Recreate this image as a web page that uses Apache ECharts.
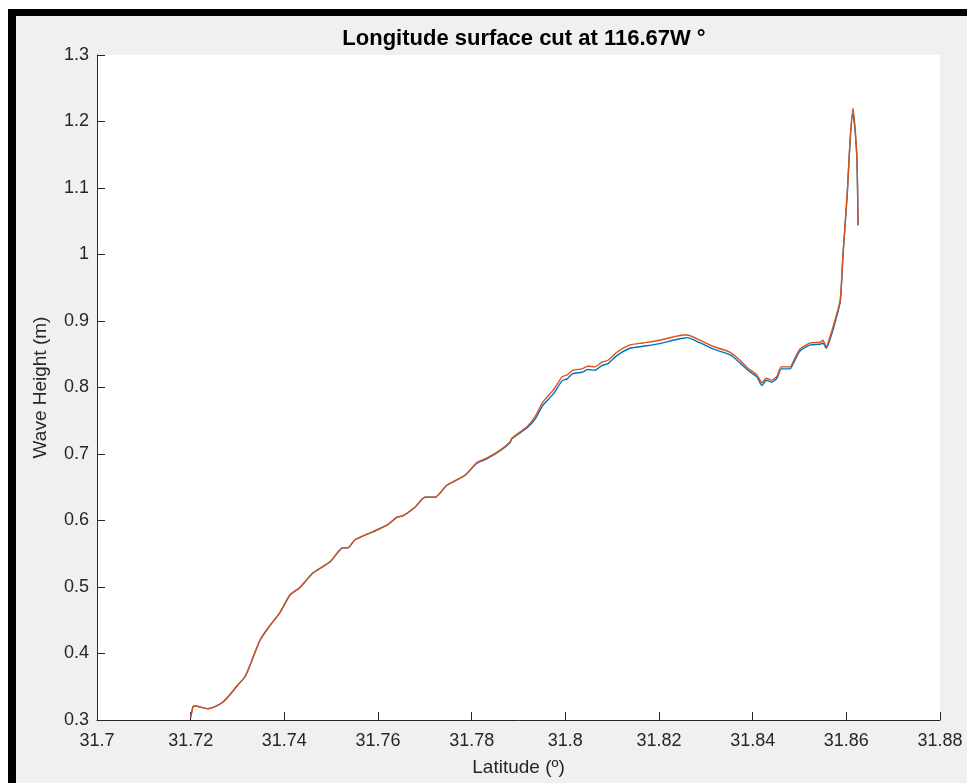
<!DOCTYPE html>
<html>
<head>
<meta charset="utf-8">
<script src="https://cdn.jsdelivr.net/npm/echarts@6/dist/echarts.min.js"></script>
<style>
html,body{margin:0;padding:0;background:#fff;}
#chart{width:967px;height:783px;}
</style>
</head>
<body>
<div id="chart"></div>
<script>
const titleText = 'Longitude surface cut at 116.67W °';
const xName = 'Latitude (º)';
const yName = 'Wave Height (m)';
const xTicks = [31.7, 31.72, 31.74, 31.76, 31.78, 31.8, 31.82, 31.84, 31.86, 31.88];
const yTicks = [0.3, 0.4, 0.5, 0.6, 0.7, 0.8, 0.9, 1.0, 1.1, 1.2, 1.3];

const latitude = [
  31.7200, 31.7205, 31.7209, 31.7237, 31.7252, 31.7269, 31.7285, 31.7301, 31.7316, 31.7331, 31.7348, 31.7365,
  31.7391, 31.7412, 31.7433, 31.7461, 31.7498, 31.7525, 31.7536, 31.7551, 31.7589, 31.7619,
  31.7641, 31.7653, 31.7679, 31.7700, 31.7722, 31.7747, 31.7786, 31.7811, 31.7833, 31.7861,
  31.7882, 31.7886, 31.7918, 31.7935, 31.7952, 31.7974, 31.7993, 31.8004, 31.8016, 31.8036,
  31.8048, 31.8063, 31.8078, 31.8091, 31.8110, 31.8138, 31.8166, 31.8202, 31.8230, 31.8251,
  31.8260, 31.8288, 31.8315, 31.8352, 31.8373, 31.8390, 31.8409, 31.8420, 31.8429, 31.8441,
  31.8452, 31.8461, 31.8480, 31.8486, 31.8501, 31.8523, 31.8544, 31.8550, 31.8557, 31.8565,
  31.8576, 31.8587, 31.8593, 31.8602, 31.8608, 31.8614, 31.8619, 31.8623, 31.8625
];

const waveBlue = [
  0.304, 0.320, 0.321, 0.317, 0.320, 0.327, 0.339, 0.353, 0.365, 0.390, 0.420, 0.438,
  0.462, 0.488, 0.499, 0.521, 0.538, 0.559, 0.559, 0.571, 0.583, 0.593,
  0.605, 0.607, 0.620, 0.635, 0.635, 0.653, 0.668, 0.686, 0.693, 0.705,
  0.717, 0.723, 0.739, 0.752, 0.773, 0.790, 0.810, 0.813, 0.821, 0.823,
  0.827, 0.826, 0.833, 0.836, 0.848, 0.859, 0.862, 0.866, 0.871, 0.874,
  0.875, 0.867, 0.858, 0.849, 0.837, 0.826, 0.816, 0.803, 0.811, 0.808,
  0.814, 0.828, 0.828, 0.835, 0.855, 0.864, 0.865, 0.867, 0.859, 0.872,
  0.898, 0.929, 1.000, 1.091, 1.170, 1.212, 1.183, 1.136, 1.044
];

const waveOrange = [
  0.304, 0.320, 0.321, 0.317, 0.320, 0.327, 0.339, 0.353, 0.365, 0.390, 0.420, 0.438,
  0.462, 0.488, 0.499, 0.521, 0.538, 0.559, 0.559, 0.571, 0.583, 0.593,
  0.605, 0.607, 0.620, 0.635, 0.635, 0.653, 0.668, 0.687, 0.694, 0.706,
  0.718, 0.724, 0.741, 0.756, 0.778, 0.796, 0.816, 0.819, 0.826, 0.828,
  0.832, 0.831, 0.838, 0.841, 0.853, 0.864, 0.867, 0.871, 0.876, 0.879,
  0.879, 0.871, 0.862, 0.853, 0.841, 0.829, 0.819, 0.807, 0.814, 0.811,
  0.817, 0.831, 0.831, 0.838, 0.858, 0.867, 0.868, 0.871, 0.861, 0.876,
  0.902, 0.932, 1.002, 1.093, 1.172, 1.220, 1.187, 1.138, 1.044
];

const FONT = '"Liberation Sans", Arial, Helvetica, sans-serif';
const AXIS_COLOR = '#262626';

const chart = echarts.init(document.getElementById('chart'), null, {renderer: 'canvas'});

const fmt = v => String(parseFloat(Number(v).toFixed(2)));

const option = {
  animation: false,
  backgroundColor: '#f0f0f0',
  grid: {
    left: 97, right: 27, top: 55, bottom: 63,
    show: true, backgroundColor: '#ffffff', borderWidth: 0
  },
  graphic: [
    {type: 'rect', shape: {x: 0, y: 0, width: 967, height: 9}, style: {fill: '#ffffff'}, silent: true},
    {type: 'rect', shape: {x: 0, y: 0, width: 8, height: 783}, style: {fill: '#ffffff'}, silent: true},
    {type: 'rect', shape: {x: 8, y: 9, width: 959, height: 7}, style: {fill: '#000000'}, silent: true},
    {type: 'rect', shape: {x: 8, y: 9, width: 8, height: 774}, style: {fill: '#000000'}, silent: true},
    {type: 'text', x: 524, y: 39, style: {text: titleText, fill: '#000', font: 'bold 22px ' + FONT, textAlign: 'center', textVerticalAlign: 'middle'}, silent: true}
  ],
  xAxis: {
    type: 'value',
    min: xTicks[0], max: xTicks[xTicks.length - 1], interval: 0.02,
    name: xName, nameLocation: 'middle', nameGap: 38,
    nameTextStyle: {color: AXIS_COLOR, fontSize: 19, fontFamily: FONT},
    axisLine: {show: true, onZero: false, lineStyle: {color: AXIS_COLOR, width: 1}},
    axisTick: {show: true, inside: true, length: 8, lineStyle: {color: AXIS_COLOR}},
    axisLabel: {color: AXIS_COLOR, fontSize: 18, fontFamily: FONT, margin: 12, formatter: fmt, showMinLabel: true, showMaxLabel: true},
    splitLine: {show: false}
  },
  yAxis: {
    type: 'value',
    min: yTicks[0], max: yTicks[yTicks.length - 1], interval: 0.1,
    name: yName, nameLocation: 'middle', nameGap: 47,
    nameTextStyle: {color: AXIS_COLOR, fontSize: 19, fontFamily: FONT},
    axisLine: {show: true, onZero: false, lineStyle: {color: AXIS_COLOR, width: 1}},
    axisTick: {show: true, inside: true, length: 8, lineStyle: {color: AXIS_COLOR}},
    axisLabel: {color: AXIS_COLOR, fontSize: 18, fontFamily: FONT, margin: 8, formatter: fmt, showMinLabel: true, showMaxLabel: true},
    splitLine: {show: false}
  },
  series: [
    {
      type: 'line', name: 'blue',
      data: latitude.map((x, i) => [x, waveBlue[i]]),
      showSymbol: false, symbol: 'none',
      smooth: 0.2,
      lineStyle: {color: '#0072BD', width: 1.4},
      itemStyle: {color: '#0072BD'}, z: 2
    },
    {
      type: 'line', name: 'orange',
      data: latitude.map((x, i) => [x, waveOrange[i]]),
      showSymbol: false, symbol: 'none',
      smooth: 0.2,
      lineStyle: {color: '#D95319', width: 1.4},
      itemStyle: {color: '#D95319'}, z: 3
    }
  ]
};
chart.setOption(option);
</script>
</body>
</html>
